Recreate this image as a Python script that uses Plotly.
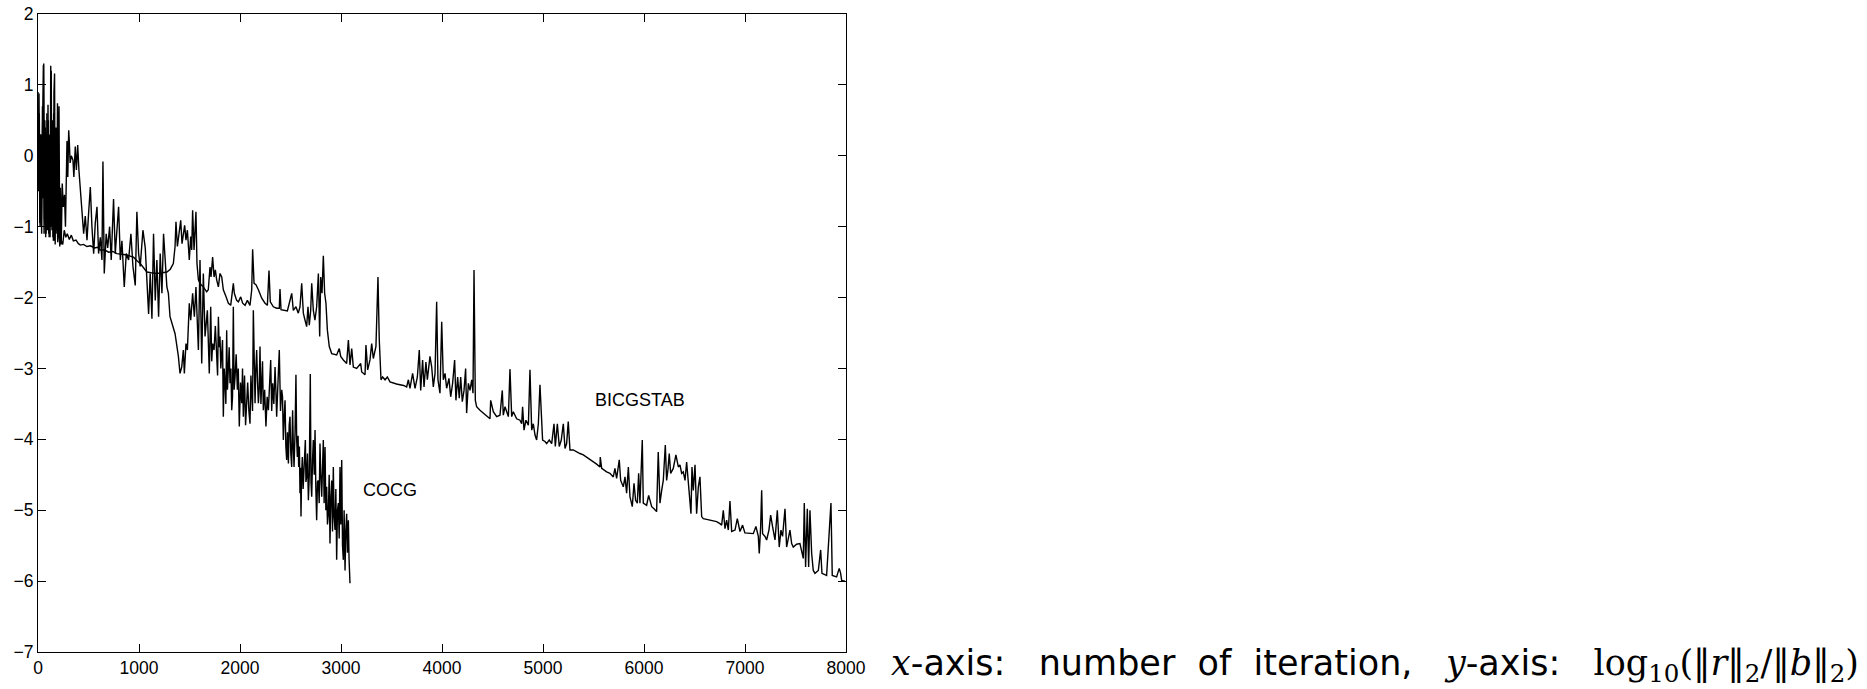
import plotly.graph_objects as go

# Convergence history: iteration number vs log10 of the relative residual
bicgstab_iter = [
    0, 10, 18, 26, 34, 43, 53, 60, 68, 76, 84, 92, 99, 106, 114, 120, 126, 133, 140, 148,
    155, 162, 170, 178, 186, 195, 205, 215, 230, 245, 260, 275, 290, 310, 330, 350, 376, 400, 419, 450,
    485, 520, 560, 590, 617, 660, 700, 740, 781, 830, 880, 920, 946, 980, 1012, 1045, 1078, 1120, 1177, 1230,
    1276, 1310, 1330, 1340, 1357, 1366, 1380, 1393, 1413, 1426, 1439, 1452, 1465, 1479, 1498, 1512, 1522, 1531, 1545, 1555,
    1564, 1574, 1588, 1604, 1637, 1670, 1686, 1703, 1713, 1729, 1743, 1756, 1769, 1786, 1802, 1819, 1835, 1862, 1885, 1908,
    1924, 1934, 1944, 1967, 1984, 2007, 2026, 2050, 2073, 2099, 2116, 2125, 2139, 2158, 2182, 2215, 2248, 2271, 2287, 2300,
    2330, 2363, 2389, 2396, 2406, 2445, 2469, 2488, 2512, 2528, 2554, 2577, 2594, 2611, 2627, 2644, 2660, 2673, 2686, 2700,
    2710, 2726, 2742, 2759, 2776, 2789, 2799, 2812, 2825, 2838, 2851, 2865, 2884, 2908, 2930, 2957, 2983, 2997, 3023, 3056,
    3073, 3089, 3106, 3122, 3155, 3195, 3205, 3238, 3247, 3264, 3287, 3304, 3320, 3346, 3366, 3379, 3396, 3412, 3436, 3459,
    3485, 3518, 3550, 3584, 3620, 3650, 3667, 3683, 3709, 3733, 3756, 3775, 3789, 3808, 3822, 3841, 3855, 3881, 3898, 3914,
    3931, 3947, 3960, 3980, 3997, 4013, 4030, 4046, 4069, 4086, 4105, 4125, 4138, 4155, 4171, 4185, 4201, 4218, 4234, 4244,
    4261, 4277, 4294, 4307, 4317, 4330, 4343, 4376, 4409, 4442, 4475, 4482, 4508, 4541, 4574, 4597, 4607, 4624, 4640, 4657,
    4673, 4690, 4706, 4739, 4772, 4789, 4798, 4812, 4831, 4855, 4871, 4888, 4904, 4921, 4937, 4954, 4970, 4980, 4996, 5020,
    5036, 5062, 5086, 5109, 5122, 5142, 5161, 5181, 5201, 5218, 5234, 5250, 5267, 5300, 5333, 5366, 5399, 5432, 5465, 5498,
    5531, 5564, 5567, 5581, 5630, 5663, 5696, 5712, 5729, 5755, 5769, 5795, 5812, 5828, 5845, 5861, 5884, 5901, 5917, 5934,
    5947, 5960, 5983, 5993, 6026, 6046, 6076, 6099, 6125, 6141, 6158, 6175, 6191, 6211, 6224, 6237, 6250, 6264, 6290, 6316,
    6340, 6356, 6373, 6389, 6406, 6422, 6439, 6465, 6475, 6488, 6505, 6521, 6538, 6554, 6571, 6587, 6620, 6653, 6686, 6719,
    6752, 6769, 6785, 6802, 6818, 6835, 6851, 6868, 6901, 6924, 6950, 6976, 6999, 7016, 7049, 7082, 7108, 7132, 7141, 7155,
    7165, 7174, 7198, 7214, 7237, 7254, 7273, 7297, 7320, 7339, 7356, 7372, 7396, 7412, 7445, 7462, 7478, 7511, 7544, 7577,
    7587, 7600, 7617, 7630, 7643, 7660, 7676, 7693, 7726, 7749, 7762, 7808, 7851, 7864, 7907, 7933, 7947, 7957, 7990,
]
bicgstab_log_res = [
    -0.35, 0.88, -0.95, 0.30, -1.00, 0.60, 1.28, -1.10, 0.50, -1.15, 0.20, -1.05, 0.72, -1.10, -0.20, -1.15, 1.27, -0.80, 0.30, -1.15,
    0.60, -1.20, 0.20, -1.10, -0.50, -1.22, -0.95, -1.25, -1.20, -1.25, -1.05, -1.15, -1.10, -1.18, -1.12, -1.20, -1.19, -1.24, -1.26, -1.25,
    -1.28, -1.27, -1.30, -1.29, -1.33, -1.33, -1.36, -1.35, -1.38, -1.39, -1.40, -1.42, -1.43, -1.48, -1.52, -1.58, -1.64, -1.65, -1.66, -1.65,
    -1.64, -1.60, -1.55, -1.52, -1.28, -0.93, -1.28, -1.14, -0.91, -1.24, -1.09, -0.98, -1.19, -1.05, -1.47, -1.14, -1.33, -0.77, -1.33, -1.10,
    -0.79, -1.52, -1.75, -1.80, -1.85, -1.92, -1.89, -1.57, -1.71, -1.43, -1.71, -1.61, -1.75, -1.85, -1.66, -1.71, -1.89, -1.99, -2.08, -2.11,
    -1.89, -1.80, -1.94, -2.04, -2.06, -1.99, -2.08, -2.11, -2.04, -2.11, -1.89, -1.32, -1.80, -1.82, -1.89, -2.01, -2.08, -2.11, -1.62, -2.06,
    -2.13, -2.15, -2.15, -1.88, -2.17, -2.18, -2.19, -2.08, -1.94, -2.18, -2.13, -2.22, -2.13, -1.80, -2.22, -2.32, -2.41, -2.13, -2.39, -2.18,
    -1.80, -2.18, -2.32, -2.13, -1.66, -2.55, -1.71, -1.94, -1.41, -1.94, -2.08, -2.46, -2.69, -2.79, -2.80, -2.81, -2.72, -2.83, -2.88, -2.93,
    -2.60, -2.95, -2.72, -2.98, -3.00, -2.93, -3.05, -3.09, -2.67, -3.02, -2.88, -2.65, -2.86, -2.69, -1.71, -2.60, -3.16, -3.12, -3.16, -3.12,
    -3.19, -3.21, -3.22, -3.23, -3.24, -3.26, -3.16, -3.28, -3.07, -3.28, -3.12, -2.74, -3.31, -2.88, -3.26, -2.91, -3.16, -2.83, -2.98, -3.26,
    -3.07, -2.06, -3.16, -3.35, -2.34, -3.16, -3.07, -3.28, -3.14, -3.40, -3.21, -2.88, -3.45, -3.12, -3.42, -3.12, -3.47, -3.31, -3.00, -3.63,
    -3.21, -3.31, -3.16, -3.35, -1.61, -3.45, -3.54, -3.59, -3.63, -3.68, -3.71, -3.45, -3.61, -3.68, -3.66, -3.31, -3.66, -3.54, -3.61, -3.68,
    -3.01, -3.68, -3.61, -3.71, -3.73, -3.78, -3.54, -3.87, -3.73, -3.80, -3.02, -3.87, -3.78, -3.94, -4.01, -3.78, -3.23, -3.54, -4.01, -4.03,
    -4.06, -4.01, -4.06, -3.78, -4.10, -3.78, -4.10, -4.01, -3.78, -4.13, -4.06, -3.75, -4.15, -4.15, -4.18, -4.20, -4.22, -4.25, -4.28, -4.32,
    -4.35, -4.39, -4.25, -4.41, -4.46, -4.48, -4.53, -4.41, -4.55, -4.29, -4.58, -4.67, -4.53, -4.76, -4.39, -4.81, -4.95, -4.62, -4.86, -4.90,
    -4.48, -4.90, -4.01, -4.90, -4.93, -4.79, -4.95, -4.98, -5.02, -4.18, -4.90, -4.72, -4.58, -4.08, -4.58, -4.43, -4.20, -4.48, -4.41, -4.22,
    -4.39, -4.36, -4.48, -4.46, -4.58, -4.32, -4.62, -5.05, -4.39, -4.72, -4.36, -5.05, -4.67, -4.53, -5.09, -5.12, -5.13, -5.14, -5.15, -5.16,
    -5.19, -5.21, -5.00, -5.26, -5.14, -5.28, -4.87, -5.30, -5.28, -5.12, -5.30, -5.21, -5.32, -5.32, -5.33, -5.33, -5.23, -5.37, -5.61, -5.23,
    -4.72, -5.33, -5.37, -5.42, -5.28, -5.07, -5.23, -5.42, -5.00, -5.52, -5.28, -5.37, -4.98, -5.52, -5.28, -5.47, -5.52, -5.48, -5.47, -5.68,
    -4.90, -5.80, -4.98, -5.80, -5.00, -5.61, -5.85, -5.89, -5.85, -5.56, -5.89, -5.92, -4.90, -5.92, -5.94, -5.82, -5.89, -5.99, -6.00,
]

cocg_iter = [
    0, 6, 13, 20, 28, 36, 44, 50, 57, 64, 72, 80, 88, 95, 103, 110, 118, 125, 131, 138,
    145, 152, 158, 164, 170, 178, 185, 193, 200, 208, 215, 222, 230, 240, 250, 262, 272, 287, 295, 304,
    310, 318, 330, 346, 355, 369, 380, 393, 405, 419, 435, 452, 468, 485, 501, 518, 534, 551, 567, 584,
    600, 617, 633, 643, 656, 675, 690, 709, 725, 748, 765, 781, 798, 815, 831, 854, 874, 897, 920, 940,
    963, 979, 996, 1012, 1039, 1062, 1078, 1095, 1111, 1128, 1144, 1161, 1177, 1194, 1210, 1227, 1243, 1260, 1276, 1291,
    1307, 1357, 1390, 1406, 1423, 1439, 1449, 1465, 1479, 1498, 1512, 1531, 1548, 1564, 1588, 1604, 1621, 1637, 1654, 1677,
    1696, 1710, 1720, 1729, 1743, 1756, 1769, 1778, 1786, 1794, 1802, 1810, 1819, 1827, 1835, 1844, 1852, 1860, 1868, 1876,
    1885, 1893, 1901, 1910, 1918, 1926, 1934, 1942, 1951, 1962, 1974, 1983, 1993, 2005, 2017, 2025, 2033, 2045, 2055, 2066,
    2076, 2088, 2099, 2108, 2116, 2124, 2132, 2140, 2149, 2157, 2165, 2174, 2182, 2190, 2198, 2207, 2215, 2223, 2231, 2244,
    2257, 2269, 2281, 2293, 2304, 2314, 2323, 2335, 2347, 2355, 2363, 2376, 2389, 2401, 2413, 2421, 2429, 2437, 2446, 2454,
    2462, 2470, 2479, 2487, 2495, 2503, 2512, 2517, 2521, 2528, 2535, 2545, 2554, 2561, 2568, 2575, 2581, 2588, 2594, 2599,
    2604, 2610, 2617, 2625, 2634, 2640, 2647, 2653, 2660, 2668, 2677, 2686, 2696, 2703, 2710, 2718, 2726, 2735, 2743, 2751,
    2759, 2767, 2776, 2784, 2792, 2800, 2809, 2817, 2825, 2833, 2842, 2850, 2858, 2866, 2875, 2883, 2891, 2900, 2908, 2916,
    2924, 2932, 2941, 2949, 2957, 2965, 2974, 2982, 2990, 2998, 3007, 3015, 3023, 3031, 3040, 3048, 3056, 3064, 3073, 3080,
    3089,
]
cocg_log_res = [
    0.90, -0.50, 0.60, -1.00, 0.30, -1.10, 0.70, -0.60, 1.30, -0.90, 0.40, -1.10, 0.60, -0.90, 0.50, -1.15, 0.30, -1.00, 1.20, -1.05,
    0.50, -1.20, 0.90, 1.16, -1.25, 0.40, -0.95, 0.74, -1.10, 0.70, -1.28, -0.45, -1.25, -0.39, -0.72, -0.55, -1.00, 0.21, -0.30, 0.36,
    0.20, -0.10, 0.00, -0.06, -0.30, 0.13, -0.20, 0.15, -0.20, -0.44, -0.72, -1.10, -0.85, -1.19, -0.81, -0.44, -1.00, -1.38, -0.95, -0.72,
    -1.38, -1.15, -1.47, -0.08, -1.66, -1.10, -1.30, -1.00, -1.47, -0.61, -1.38, -1.10, -0.72, -1.47, -1.20, -1.85, -1.38, -1.47, -1.10, -1.56,
    -1.83, -0.79, -1.38, -1.56, -1.05, -1.30, -1.80, -2.23, -1.66, -2.30, -1.10, -2.04, -1.47, -2.27, -1.38, -1.94, -1.10, -1.56, -1.85, -1.94,
    -2.27, -2.51, -2.83, -3.07, -2.98, -2.74, -3.07, -2.65, -2.74, -2.08, -2.32, -1.94, -2.27, -1.85, -2.74, -1.47, -2.93, -1.66, -2.55, -2.18,
    -3.07, -2.13, -2.90, -2.65, -2.74, -2.40, -2.93, -3.10, -2.27, -2.70, -2.55, -3.00, -2.79, -2.60, -3.68, -3.00, -3.21, -3.50, -2.46, -3.30,
    -2.98, -2.70, -3.21, -3.00, -3.59, -3.40, -2.13, -3.30, -3.12, -2.80, -3.30, -3.00, -3.82, -3.20, -3.49, -3.00, -3.68, -3.10, -3.80, -3.49,
    -3.20, -3.60, -3.78, -3.10, -3.35, -3.60, -2.18, -3.20, -3.49, -3.00, -2.74, -3.20, -3.49, -3.30, -2.69, -3.50, -3.12, -2.90, -3.59, -3.30,
    -3.82, -3.40, -3.59, -3.30, -2.88, -3.60, -3.21, -3.50, -2.98, -3.30, -3.68, -3.20, -2.74, -3.60, -3.30, -3.40, -4.01, -3.70, -3.45, -4.10,
    -4.29, -3.90, -4.34, -3.80, -3.68, -4.20, -4.39, -3.90, -3.59, -4.10, -4.39, -3.90, -3.09, -4.00, -4.25, -3.95, -4.39, -4.10, -4.76, -4.40,
    -5.09, -4.50, -4.25, -4.70, -4.48, -4.20, -4.01, -4.60, -4.53, -4.20, -4.86, -4.50, -3.08, -4.60, -4.81, -4.30, -4.01, -4.50, -3.87, -4.70,
    -5.14, -4.60, -4.58, -4.90, -4.06, -4.50, -4.81, -4.40, -4.01, -4.90, -4.11, -5.00, -4.67, -5.20, -5.05, -4.50, -5.47, -4.80, -4.58, -5.30,
    -4.39, -5.10, -5.28, -4.70, -5.70, -5.00, -4.90, -5.40, -4.39, -5.20, -4.29, -5.50, -5.70, -5.00, -5.85, -5.30, -5.05, -5.60, -5.14, -5.70,
    -6.03,
]

# Curve labels placed at (iteration, log10 residual)
curve_labels = ["BICGSTAB", "COCG"]
label_iter = [5960, 3485]
label_log_res = [-3.44, -4.72]

x_ticks = [0, 1000, 2000, 3000, 4000, 5000, 6000, 7000, 8000]
y_ticks = [2, 1, 0, -1, -2, -3, -4, -5, -6, -7]

fig = go.Figure()
fig.add_trace(go.Scatter(x=bicgstab_iter, y=bicgstab_log_res, mode="lines",
                         line=dict(color="black", width=1.4), name="BICGSTAB"))
fig.add_trace(go.Scatter(x=cocg_iter, y=cocg_log_res, mode="lines",
                         line=dict(color="black", width=1.4), name="COCG"))

for txt, xv, yv in zip(curve_labels, label_iter, label_log_res):
    fig.add_annotation(x=xv, y=yv, xref="x", yref="y", text=txt, showarrow=False,
                       font=dict(family="Liberation Sans, Arial, sans-serif", size=18, color="black"))

# Axis description written beside the plot, with the math in a serif face
serif = "font-family:'DejaVu Serif',serif"
sp2 = "\u00a0\u00a0"
sp3 = "\u00a0\u00a0\u00a0"
caption = (
    f"<span style=\"{serif}\"><i>x</i></span>-axis:{sp3}number{sp2}of{sp2}iteration,{sp3}"
    f"<span style=\"{serif}\"><i>y</i></span>-axis:{sp3}"
    f"<span style=\"{serif}\">log<sub>10</sub>(‖<i>r</i>‖<sub>2</sub>/‖<i>b</i>‖<sub>2</sub>)</span>"
)
fig.add_annotation(x=1.0532, y=-0.059, xref="paper", yref="paper", xanchor="left", yanchor="bottom",
                   text=caption, showarrow=False,
                   font=dict(family="DejaVu Sans, sans-serif", size=35, color="black"))

axis_common = dict(showgrid=False, zeroline=False, showline=True, linecolor="black", linewidth=1,
                   mirror="ticks", ticks="inside", ticklen=8, tickwidth=1, tickcolor="black",
                   automargin=False,
                   tickfont=dict(family="Liberation Sans, Arial, sans-serif", size=17.5, color="black"))
fig.update_xaxes(range=[0, 8000], tickvals=x_ticks, ticktext=[str(v) for v in x_ticks], **axis_common)
fig.update_yaxes(range=[-7, 2], tickvals=y_ticks, **axis_common)

fig.update_layout(width=1867, height=689, margin=dict(l=38, r=1021, t=14, b=37),
                  plot_bgcolor="white", paper_bgcolor="white", showlegend=False)

fig.write_html("out.html")
